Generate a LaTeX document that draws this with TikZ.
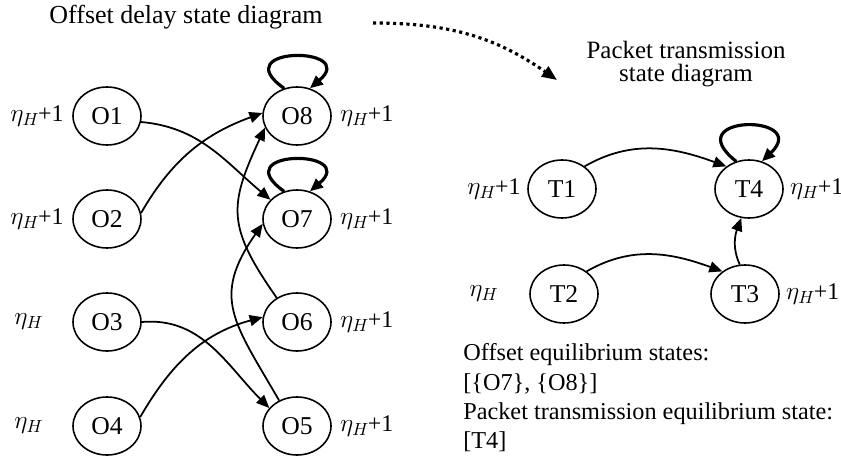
\documentclass[tikz,border=0pt]{standalone}
\usepackage{fontspec}
\setmainfont{Liberation Serif}
\usetikzlibrary{positioning, arrows.meta, shapes.geometric}

\begin{document}
\begin{tikzpicture}[
state/.style={ellipse, draw, line width=0.9pt, minimum width=1.36cm, minimum height=1.16cm, inner sep=0pt, font=\fontsize{14.6}{17}\selectfont},
lbl/.style={inner sep=0pt, font=\fontsize{13.6}{16}\selectfont},
txt/.style={inner sep=0pt, font=\fontsize{14.2}{17}\selectfont},
trans/.style={-{Triangle[length=2.6mm, width=2.2mm]}, line width=1pt},
selfloop/.style={-{Triangle[length=2.6mm, width=2.2mm]}, line width=1.8pt},
link/.style={-{Triangle[length=3mm, width=2.4mm]}, line width=1.8pt, dotted}
]
\useasboundingbox (0,0) rectangle (16.82,9.2);
\node[txt, anchor=base, font=\fontsize{14.8}{17}\selectfont] (title) at (3.72,8.72) {Offset delay state diagram};
\node[txt, anchor=base] (pk1) at (13.72,8.02) {Packet transmission};
\node[txt, anchor=base] (pk2) at (13.72,7.56) {state diagram};
\coordinate (ds) at (7.46,8.74);
\coordinate (de) at (11.14,7.6);
\draw[link] (ds) to[out=0, in=145] (de);

\node[state] (O1) at (2.14,6.88) {O1};
\node[state] (O2) at (2.14,4.82) {O2};
\node[state] (O3) at (2.14,2.76) {O3};
\node[state] (O4) at (2.14,0.68) {O4};
\node[state] (O8) at (5.94,6.88) {O8};
\node[state] (O7) at (5.94,4.82) {O7};
\node[state] (O6) at (5.94,2.76) {O6};
\node[state] (O5) at (5.94,0.68) {O5};
\node[lbl, anchor=west] (hO1) at (0.2,6.88) {$\eta_H$\kern-0.8pt+1};
\node[lbl, anchor=west] (hO2) at (0.2,4.82) {$\eta_H$\kern-0.8pt+1};
\node[lbl, anchor=west] (hO3) at (0.28,2.76) {$\eta_H$};
\node[lbl, anchor=west] (hO4) at (0.28,0.68) {$\eta_H$};
\node[lbl, right=0.16cm of O8] (hO8) {$\eta_H$\kern-0.8pt+1};
\node[lbl, right=0.16cm of O7] (hO7) {$\eta_H$\kern-0.8pt+1};
\node[lbl, right=0.16cm of O6] (hO6) {$\eta_H$\kern-0.8pt+1};
\node[lbl, right=0.16cm of O5] (hO5) {$\eta_H$\kern-0.8pt+1};

\draw[trans] (O1.-10) to[out=-5, in=140] (O7.144);
\draw[trans] (O2.10) to[out=60, in=200] (O8.175);
\draw[trans] (O3.0) to[out=5, in=135] (O5.147);
\draw[trans] (O4.15) to[out=60, in=195] (O6.172);
\draw[trans] (O5.125) to[out=120, in=235, looseness=1.3] (O7.188);
\draw[trans] (O6.130) to[out=125, in=245, looseness=1.3] (O8.200);
\draw[selfloop] (O8.115) .. controls +(-1.2,0.85) and +(1.0,0.85) .. (O8.65);
\draw[selfloop] (O7.115) .. controls +(-1.2,0.85) and +(1.0,0.85) .. (O7.65);

\node[state] (T1) at (11.24,5.42) {T1};
\node[state] (T4) at (14.98,5.42) {T4};
\node[state] (T2) at (11.28,3.32) {T2};
\node[state] (T3) at (14.9,3.32) {T3};
\node[lbl, anchor=west] (hT1) at (9.34,5.42) {$\eta_H$\kern-0.8pt+1};
\node[lbl, anchor=west] (hT2) at (9.38,3.32) {$\eta_H$};
\node[lbl, right=0.12cm of T4] (hT4) {$\eta_H$\kern-0.8pt+1};
\node[lbl, right=0.12cm of T3] (hT3) {$\eta_H$\kern-0.8pt+1};

\draw[trans] (T1.45) to[out=30, in=160] (T4.135);
\draw[trans] (T2.45) to[out=30, in=160] (T3.135);
\draw[trans] (T3.100) to[out=115, in=-110] (T4.255);
\draw[selfloop] (T4.115) .. controls +(-1.2,0.95) and +(1.0,0.95) .. (T4.65);

\node[txt, anchor=base west, font=\fontsize{13.8}{17}\selectfont] (eq1) at (9.26,2.0) {Offset equilibrium states:};
\node[txt, anchor=base west, font=\fontsize{13.8}{17}\selectfont] (eq2) at (9.26,1.4) {[\{O7\}, \{O8\}]};
\node[txt, anchor=base west, font=\fontsize{13.8}{17}\selectfont] (eq3) at (9.26,0.82) {Packet transmission equilibrium state:};
\node[txt, anchor=base west, font=\fontsize{13.8}{17}\selectfont] (eq4) at (9.26,0.24) {[T4]};
\end{tikzpicture}
\end{document}
